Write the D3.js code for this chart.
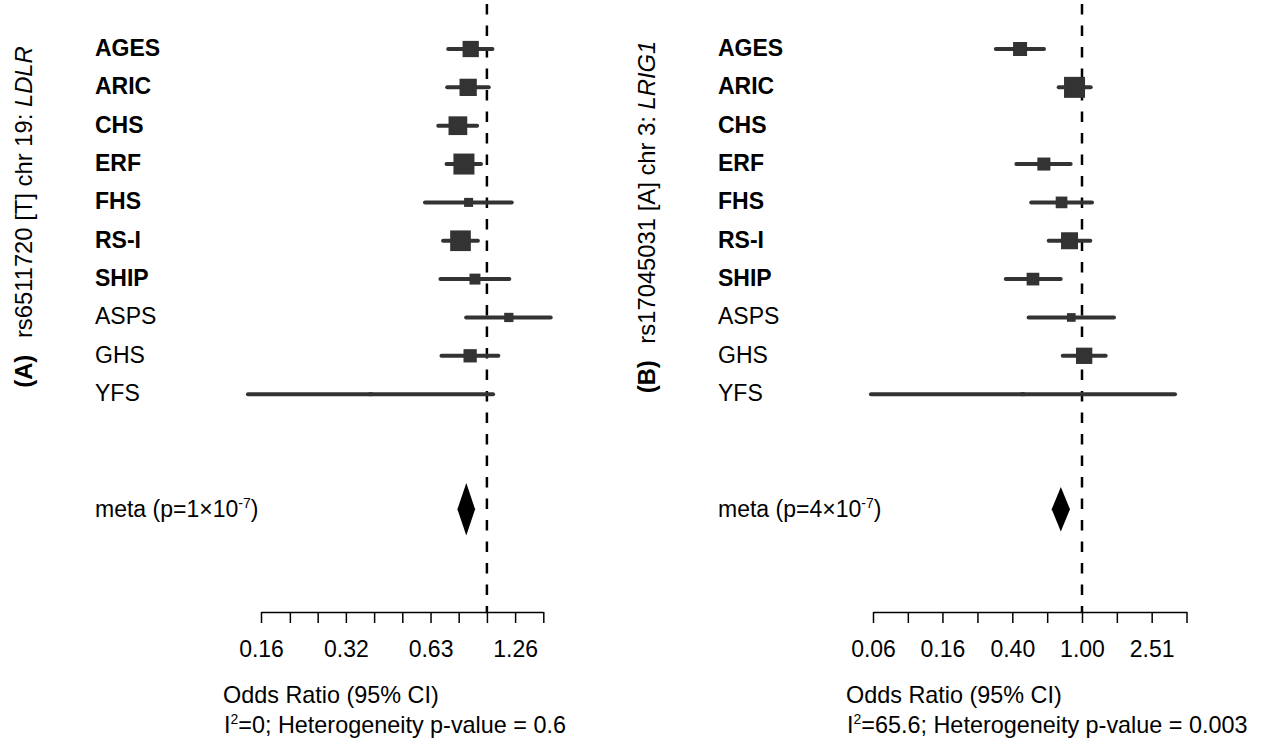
<!DOCTYPE html>
<html>
<head>
<meta charset="utf-8">
<title>Forest plots</title>
<script src="https://d3js.org/d3.v7.min.js"></script>
<style>
  body { margin: 0; background: #fff; }
  svg text { font-family: "Liberation Sans", Arial, Helvetica, sans-serif; font-size: 23px; fill: #000; }
</style>
</head>
<body>
<div id="chart"></div>
<script>
// ---------------- data ----------------
var studies = ["AGES", "ARIC", "CHS", "ERF", "FHS", "RS-I", "SHIP", "ASPS", "GHS", "YFS"];
var discovery = [true, true, true, true, true, true, true, false, false, false];

// (A) rs6511720 [T] chr 19: LDLR
var orA    = [0.876, 0.858, 0.789, 0.829, 0.861, 0.806, 0.907, 1.196, 0.872, 0.387];
var loA    = [0.729, 0.723, 0.672, 0.719, 0.603, 0.699, 0.684, 0.844, 0.690, 0.142];
var hiA    = [1.046, 1.015, 0.923, 0.953, 1.225, 0.929, 1.201, 1.684, 1.098, 1.052];
var wA     = [11.7, 13.2, 15.5, 19.5, 3.6, 18.9, 5.3, 3.8, 7.8, 0.7];
var metaA  = {or: 0.845, lo: 0.786, hi: 0.908};
var ticksA = [0.158, 0.2, 0.251, 0.316, 0.398, 0.501, 0.631, 0.794, 1, 1.259, 1.585];
var tickLabelsA = ["0.16", "", "", "0.32", "", "", "0.63", "", "", "1.26", ""];

// (B) rs17045031 [A] chr 3: LRIG1  (no CHS estimate)
var orB    = [0.441, 0.906, null, 0.604, 0.763, 0.848, 0.523, 0.868, 1.029, 0.457];
var loB    = [0.320, 0.735, null, 0.420, 0.511, 0.644, 0.365, 0.494, 0.775, 0.0614];
var hiB    = [0.605, 1.122, null, 0.861, 1.141, 1.116, 0.755, 1.526, 1.368, 3.42];
var wB     = [11.2, 25.2, null, 9.7, 7.8, 16.5, 9.2, 4.3, 15.2, 0.9];
var metaB  = {or: 0.756, lo: 0.670, hi: 0.853};
var ticksB = [0.0631, 0.1, 0.158, 0.251, 0.398, 0.631, 1, 1.585, 2.512, 3.981];
var tickLabelsB = ["0.06", "", "0.16", "", "0.40", "", "1.00", "", "2.51", ""];

// ---------------- layout ----------------
var W = 1265, H = 744;
var ink = "#333333";

var svg = d3.select("#chart").append("svg")
    .attr("width", W)
    .attr("height", H);

// rows 0..9 studies, row 12 meta
var y = d3.scaleLinear().domain([0, 12]).range([49, 509.2]);
var axisY = 612;

var panels = [
  {tag: "(A)", title: "rs6511720 [T] chr 19: ", gene: "LDLR", titleX: 32, titleY: 217,
   labelX: 95, range: [261, 543.3], or: orA, lo: loA, hi: hiA, w: wA, meta: metaA,
   ticks: ticksA, tickLabels: tickLabelsA, metaP: "1", diamondH: 26.3,
   textX: 223, i2: "0", het: "0.6"},
  {tag: "(B)", title: "rs17045031 [A] chr 3: ", gene: "LRIG1", titleX: 655, titleY: 217,
   labelX: 718, range: [873, 1186.5], or: orB, lo: loB, hi: hiB, w: wB, meta: metaB,
   ticks: ticksB, tickLabels: tickLabelsB, metaP: "4", diamondH: 22.2,
   textX: 846, i2: "65.6", het: "0.003"}
];

panels.forEach(function(p) {
  var g = svg.append("g");

  var x = d3.scaleLog()
      .domain([p.ticks[0], p.ticks[p.ticks.length - 1]])
      .range(p.range);

  var size = d3.scaleSqrt()
      .domain([0, d3.max(p.w)])
      .range([0, 21]);

  // vertical title
  var t = g.append("text")
      .attr("transform", "translate(" + p.titleX + "," + p.titleY + ") rotate(-90)")
      .attr("text-anchor", "middle")
      .style("font-size", "23.8px");
  t.append("tspan").attr("font-weight", "bold").text(p.tag);
  t.append("tspan").attr("dx", 10).text(" " + p.title);
  t.append("tspan").attr("font-style", "italic").text(p.gene);

  // null line at OR = 1
  g.append("line")
      .attr("x1", x(1)).attr("x2", x(1))
      .attr("y1", 4).attr("y2", axisY)
      .attr("stroke", "#000")
      .attr("stroke-width", 2.5)
      .attr("stroke-dasharray", "10.5,11");

  // study labels
  g.selectAll(".lab")
    .data(studies)
    .enter().append("text")
      .attr("class", "lab")
      .attr("x", p.labelX)
      .attr("y", function(d, i) { return y(i) + 7; })
      .attr("font-weight", function(d, i) { return discovery[i] ? "bold" : "normal"; })
      .text(function(d) { return d; });

  var rows = studies.map(function(s, i) {
    return {i: i, or: p.or[i], lo: p.lo[i], hi: p.hi[i], w: p.w[i]};
  }).filter(function(d) { return d.or != null; });

  // confidence intervals
  g.selectAll(".ci")
    .data(rows)
    .enter().append("line")
      .attr("class", "ci")
      .attr("x1", function(d) { return x(d.lo); })
      .attr("x2", function(d) { return x(d.hi); })
      .attr("y1", function(d) { return y(d.i); })
      .attr("y2", function(d) { return y(d.i); })
      .attr("stroke", ink)
      .attr("stroke-width", 4)
      .attr("stroke-linecap", "round");

  // weighted boxes
  g.selectAll(".box")
    .data(rows)
    .enter().append("rect")
      .attr("class", "box")
      .attr("x", function(d) { return x(d.or) - size(d.w) / 2; })
      .attr("y", function(d) { return y(d.i) - size(d.w) / 2; })
      .attr("width", function(d) { return size(d.w); })
      .attr("height", function(d) { return size(d.w); })
      .attr("fill", ink);

  // meta summary
  var my = y(12);
  var mt = g.append("text").attr("x", p.labelX).attr("y", my + 8);
  mt.append("tspan").text("meta (p=" + p.metaP + "\u00d710");
  mt.append("tspan").attr("font-size", "14px").attr("dy", -9).text("-7");
  mt.append("tspan").attr("dy", 9).text(")");

  g.append("path")
      .attr("d", "M" + x(p.meta.lo) + "," + my +
                 "L" + x(p.meta.or) + "," + (my - p.diamondH) +
                 "L" + x(p.meta.hi) + "," + my +
                 "L" + x(p.meta.or) + "," + (my + p.diamondH) + "Z")
      .attr("fill", "#000");

  // x axis
  var axis = d3.axisBottom(x)
      .tickValues(p.ticks)
      .tickFormat(function(d, i) { return p.tickLabels[i]; })
      .tickSize(11)
      .tickSizeOuter(0)
      .tickPadding(18);

  var ax = g.append("g")
      .attr("transform", "translate(0," + axisY + ")")
      .call(axis);
  ax.select(".domain").attr("stroke", "#000").attr("stroke-width", 1.5);
  ax.selectAll(".tick line").attr("stroke", "#000").attr("stroke-width", 1.5);
  ax.selectAll(".tick text")
      .attr("fill", "#000")
      .style("font-family", "'Liberation Sans', Arial, Helvetica, sans-serif")
      .style("font-size", "23px");

  // bottom captions
  g.append("text").attr("x", p.textX).attr("y", 703).style("font-size", "23.4px").text("Odds Ratio (95% CI)");
  var ht = g.append("text").attr("x", p.textX + 1).attr("y", 733).style("font-size", "23.4px");
  ht.append("tspan").text("I");
  ht.append("tspan").attr("font-size", "14px").attr("dy", -9).text("2");
  ht.append("tspan").attr("dy", 9).text("=" + p.i2 + "; Heterogeneity p-value = " + p.het);
});
</script>
</body>
</html>
